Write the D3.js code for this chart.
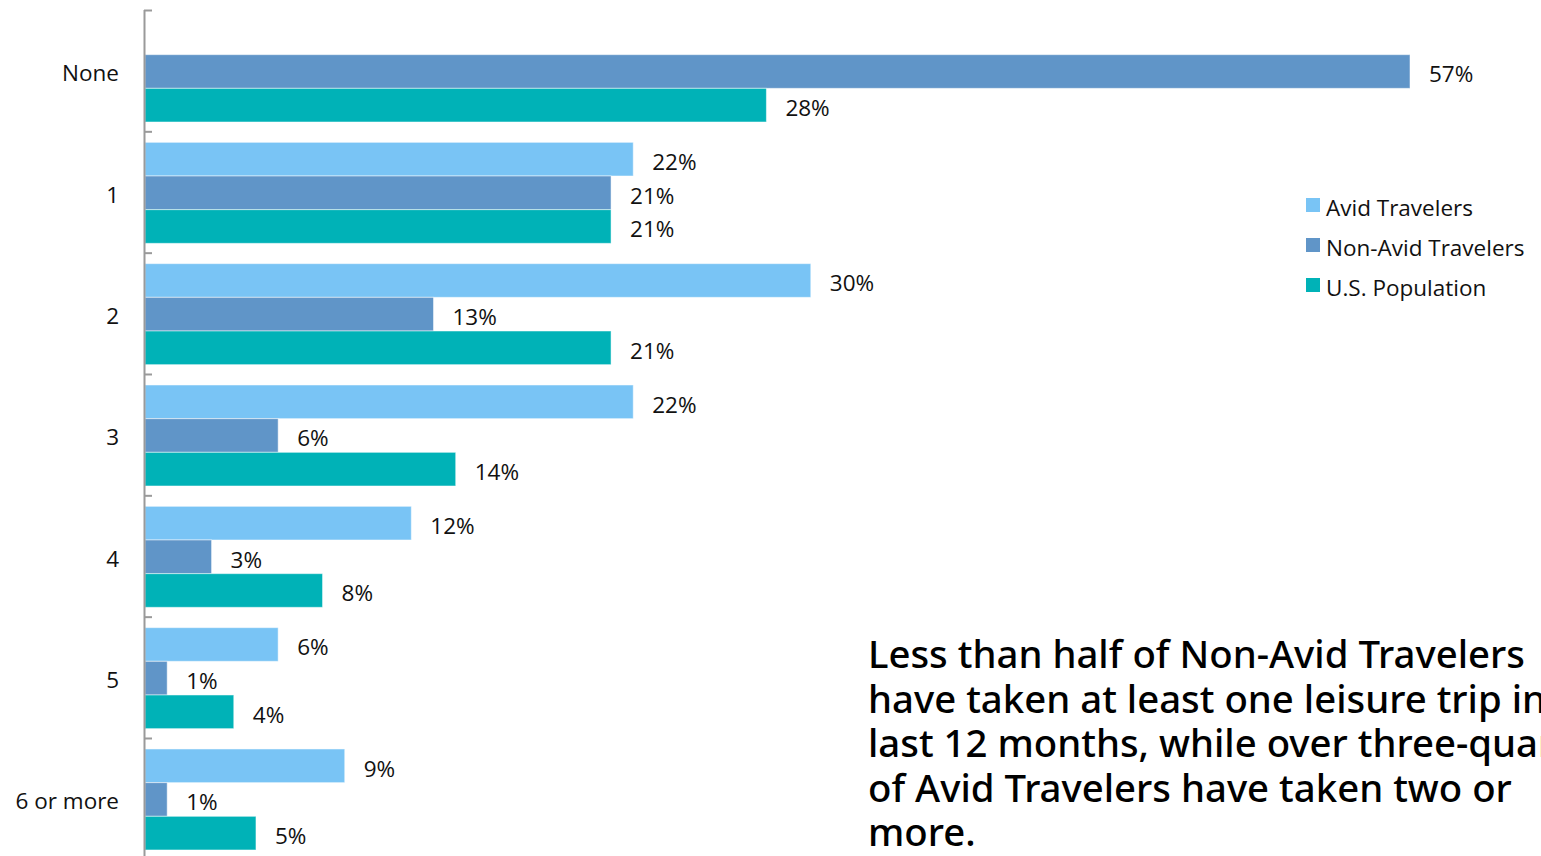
<!DOCTYPE html>
<html>
<head>
<meta charset="utf-8">
<script src="https://cdn.jsdelivr.net/npm/d3@7"></script>
<style>
  html, body { margin: 0; padding: 0; background: #fff; overflow: hidden; }
  svg { display: block; }
</style>
</head>
<body>
<svg id="chart" width="1541" height="856"></svg>
<script>
// Number of leisure trips taken in the last 12 months
const categories = ["None", "1", "2", "3", "4", "5", "6 or more"];
const seriesNames = ["Avid Travelers", "Non-Avid Travelers", "U.S. Population"];
const avid    = [null, 22, 30, 22, 12, 6, 9];
const nonAvid = [57, 21, 13, 6, 3, 1, 1];
const usPop   = [28, 21, 21, 14, 8, 4, 5];
const seriesColors = ["#79C4F5", "#6095C8", "#00B2B7"];
const noteLines = [
  "Less than half of Non-Avid Travelers",
  "have taken at least one leisure trip in the",
  "last 12 months, while over three-quarters",
  "of Avid Travelers have taken two or",
  "more."
];

const seriesValues = [avid, nonAvid, usPop];
const svg = d3.select("#chart");
const labelFont = "'Open Sans', Lato, sans-serif";
const labelSize = 22.5;

const x = d3.scaleLinear().domain([0, 57]).range([145, 1410]);
const y = d3.scaleBand().domain(categories).range([10, 10 + 121.33 * 7]).paddingInner(0).paddingOuter(0);
const ySub = d3.scaleBand().domain(seriesNames).range([11, 112]);

// bars + value labels
categories.forEach((cat, ci) => {
  const g = svg.append("g").attr("transform", `translate(0,${y(cat)})`);
  seriesNames.forEach((s, si) => {
    const v = seriesValues[si][ci];
    if (v == null) return;
    g.append("rect")
      .attr("x", x(0))
      .attr("y", ySub(s))
      .attr("width", x(v) - x(0))
      .attr("height", ySub.bandwidth())
      .attr("fill", seriesColors[si])
      .attr("stroke", "#fff")
      .attr("stroke-opacity", 0.5)
      .attr("stroke-width", 1);
    g.append("text")
      .attr("x", x(v) + 19)
      .attr("y", ySub(s) + ySub.bandwidth() / 2)
      .attr("dy", "0.48em")
      .attr("font-family", labelFont)
      .attr("font-size", labelSize)
      .attr("fill", "#111")
      .text(v + "%");
  });
});

// category axis
const axis = d3.axisLeft(y).tickSize(0).tickPadding(26);
const axG = svg.append("g").attr("transform", `translate(${x(0)},0)`).call(axis);
axG.select(".domain").remove();
axG.selectAll("text")
  .attr("dy", "0.48em")
  .attr("font-family", labelFont)
  .attr("font-size", labelSize)
  .attr("fill", "#111");
svg.append("line")
  .attr("x1", x(0) - 0.5).attr("x2", x(0) - 0.5)
  .attr("y1", 10).attr("y2", 856)
  .attr("stroke", "#9a9a9a").attr("stroke-width", 2);
// band boundary ticks
svg.selectAll(".btick")
  .data(categories)
  .join("line")
  .attr("x1", x(0) - 1).attr("x2", x(0) + 7)
  .attr("y1", d => y(d) + 0.5).attr("y2", d => y(d) + 0.5)
  .attr("stroke", "#9a9a9a").attr("stroke-width", 2);

// legend
const legend = svg.append("g").attr("transform", "translate(1306,206)");
seriesNames.forEach((s, i) => {
  const row = legend.append("g").attr("transform", `translate(0,${i * 40})`);
  row.append("rect").attr("x", 0).attr("y", -8).attr("width", 14).attr("height", 14).attr("fill", seriesColors[i]);
  row.append("text")
    .attr("x", 20).attr("y", 0).attr("dy", "0.45em")
    .attr("font-family", labelFont).attr("font-size", labelSize).attr("fill", "#111")
    .text(s);
});

// annotation
const note = svg.append("g");
const lines = note.selectAll("text")
  .data(noteLines)
  .join("text")
  .attr("x", 868)
  .attr("y", (d, i) => 668 + i * 44.6)
  .attr("font-family", "'Noto Sans', 'Open Sans', sans-serif")
  .attr("font-weight", 500)
  .attr("font-size", 34)
  .attr("fill", "#000")
  .text(d => d);
// size the note so the first line spans its intended width
const w0 = lines.node().getComputedTextLength();
const fs = 34 * 657 / w0;
lines.attr("font-size", fs);
</script>
</body>
</html>
